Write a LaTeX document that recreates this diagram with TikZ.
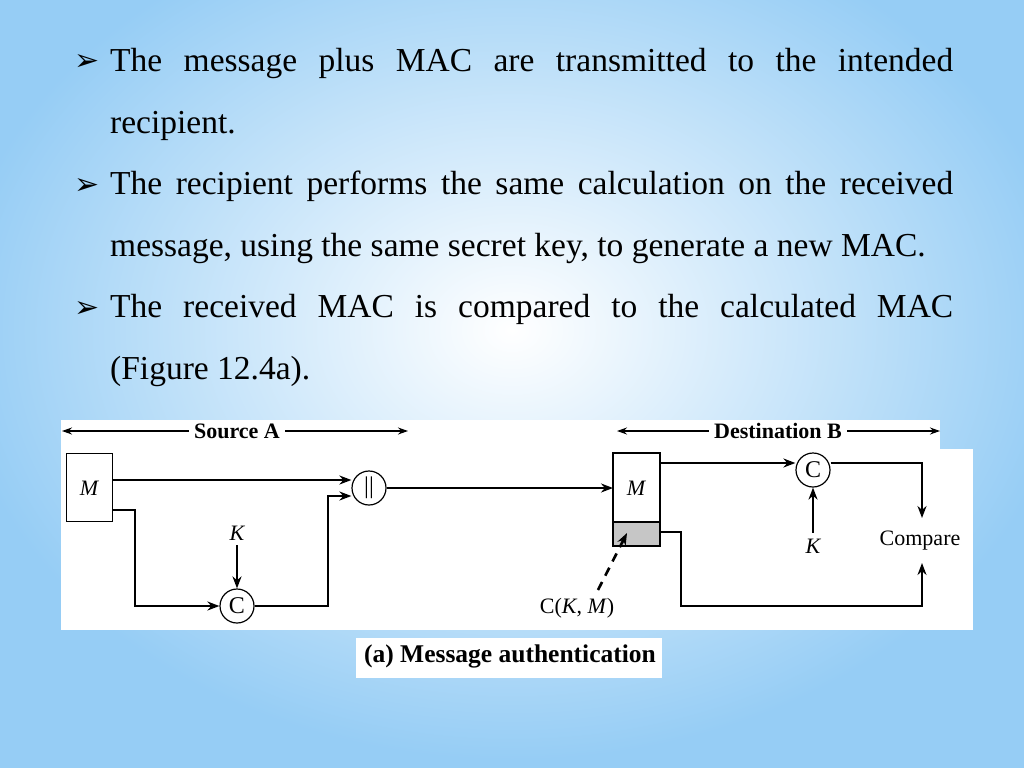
\documentclass[tikz,border=0pt]{standalone}
\usepackage{fontspec}
\setmainfont{Liberation Serif}
\newfontfamily\dejavu{DejaVu Sans}
\usetikzlibrary{arrows.meta,shapes.misc}
\definecolor{bgblue}{RGB}{150,205,245}
\tikzset{
  body/.style={anchor=west,inner sep=0pt,font=\fontsize{33.5}{38}\selectfont},
  bul/.style={anchor=west,inner sep=0pt,font=\dejavu\fontsize{30}{34}\selectfont},
  lbl/.style={inner sep=0pt,font=\fontsize{22}{26}\selectfont},
  ilbl/.style={inner sep=0pt,font=\itshape\fontsize{22}{26}\selectfont},
  hdr/.style={inner xsep=5pt,inner ysep=0pt,fill=white,font=\bfseries\fontsize{22}{26}\selectfont},
  wire/.style={line width=2.8pt,-{Stealth[length=12pt,width=9pt]}},
  thin/.style={line width=1.2pt,{Stealth[length=10pt,width=7pt]}-{Stealth[length=10pt,width=7pt]}},
  box/.style={draw,line width=1.2pt,fill=white,minimum width=46pt,inner sep=0pt},
  op/.style={draw,line width=1.2pt,fill=white,rounded rectangle,minimum width=31pt,minimum height=34pt,inner sep=0pt,font=\fontsize{24}{26}\selectfont}
}
\begin{document}
\begin{tikzpicture}[x=1pt,y=-1pt]
\useasboundingbox (0,0) rectangle (1024,768);
\fill[bgblue] (0,0) rectangle (1024,768);
\shade[inner color=white,outer color=bgblue] (512,330) ellipse (560 and 430);
% text
\foreach \y in {63,186,309} \node[bul] at (74,\y) {➢};
\node[body] (l1) at (110,63) {\makebox[843pt][s]{The message plus MAC are transmitted to the intended}};
\node[body] (l2) at (110,126) {recipient.};
\node[body] (l3) at (110,186) {\makebox[843pt][s]{The recipient performs the same calculation on the received}};
\node[body] (l4) at (110,248) {message, using the same secret key, to generate a new MAC.};
\node[body] (l5) at (110,309) {\makebox[843pt][s]{The received MAC is compared to the calculated MAC}};
\node[body] (l6) at (110,371) {(Figure 12.4a).};
% white panels
\fill[white] (61,420) rectangle (940,630);
\fill[white] (61,449) rectangle (973,630);
\fill[white] (356,638) rectangle (662,678);
\node[font=\bfseries\fontsize{25.5}{28}\selectfont,inner sep=0pt] (cap) at (510,656) {(a) Message authentication};
% headers
\coordinate (sa1) at (62,431); \coordinate (sa2) at (408,431);
\draw[thin] (sa1) -- (sa2);
\node[hdr] (sa) at (237,431) {Source A};
\coordinate (db1) at (617,431); \coordinate (db2) at (940,431);
\draw[thin] (db1) -- (db2);
\node[hdr] (db) at (778,431) {Destination B};
% source
\node[box,minimum height=68pt,anchor=north west] (m1) at (66,453) {};
\node[ilbl] at (89,488) {M};
\node[op] (cc) at (369,488) {||};
\node[op] (c1) at (237,606) {C};
\node[ilbl] (k1) at (237,533) {K};
\draw[wire] (m1.east |- 0,480) -- (cc.west |- 0,480);
\draw[wire] (m1.east |- 0,510) -- (135,510) -- (135,606) -- (c1.west);
\draw[wire] (k1.south) ++(0,5) -- (c1.north);
\draw[wire] (c1.east) -- (328,606) -- (328,496) -- (cc.west |- 0,496);
% destination
\node[box,minimum height=92pt,anchor=north west] (m2) at (613,453) {};
\fill[gray!45] (613,522) rectangle (659,545);
\draw[line width=1.2pt] (613,522) -- (659,522) (m2.north west) rectangle (m2.south east);
\node[ilbl] at (636,488) {M};
\draw[wire] (cc.east) -- (m2.west |- 0,488);
\node[op] (c2) at (813,470) {C};
\node[ilbl] (k2) at (813,546) {K};
\node[lbl] (cmp) at (920,541) {Compare};
\draw[wire] (m2.east |- 0,463) -- (c2.west |- 0,463);
\draw[wire] (k2.north) ++(0,-6) -- (c2.south);
\draw[wire] (c2.east |- 0,463) -- (922,463) -- (922,518);
\draw[wire] (659,532) -- (681,532) -- (681,606) -- (922,606) -- (922,563);
\node[lbl] (ckm) at (577,608) {C(\textit{K}, \textit{M})};
\draw[line width=2.6pt,dash pattern=on 9pt off 7pt,-{Stealth[length=12pt,width=9pt]}] (598,590) -- (627,533);
\end{tikzpicture}
\end{document}
